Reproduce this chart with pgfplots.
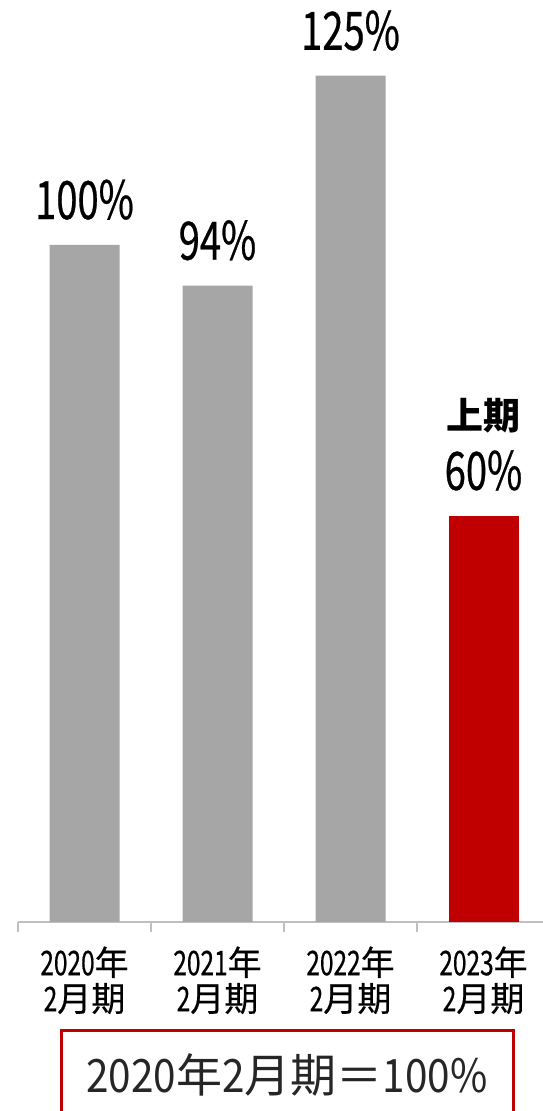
\documentclass[border=0pt]{standalone}
\usepackage{pgfplots}
\pgfplotsset{compat=1.18}
\usepackage{fontspec}
\setmainfont{Noto Sans CJK JP}
\newfontfamily\jpm[FakeBold=0.5]{Noto Sans CJK JP}
\newfontfamily\numA[FakeStretch=0.72,FakeBold=0.5]{Noto Sans CJK JP}
\newfontfamily\numB[FakeStretch=0.88]{Noto Sans CJK JP}
\definecolor{barGray}{HTML}{A6A6A6}
\definecolor{barRed}{HTML}{C00000}
\definecolor{axGray}{HTML}{BFBFBF}
\definecolor{txtDark}{HTML}{262626}
\newcommand\redlab{{\rmfamily\bfseries\fontsize{37}{40}\selectfont 上期}\\[2pt]60\%}
\begin{document}
\begin{tikzpicture}[x=1pt,y=1pt]
\path[use as bounding box] (0,0) rectangle (543,1111);
\begin{axis}[
  at={(18pt,189pt)}, anchor=south west,
  x=133pt, y=6.77pt,
  xmin=-0.5, xmax=3.5, ymin=0, ymax=136,
  axis x line*=bottom, axis y line=none,
  x axis line style={axGray, line width=1.5pt, -},
  xtick={0,1,2,3},
  xticklabels={{{\numA 2020}年\\{\numA 2}月期},{{\numA 2021}年\\{\numA 2}月期},{{\numA 2022}年\\{\numA 2}月期},{{\numA 2023}年\\{\numA 2}月期}},
  major tick length=0pt,
  minor xtick={-0.5,0.5,1.5,2.5,3.5}, minor tick length=10pt, tick align=outside,
  minor tick style={axGray, line width=1.5pt},
  xticklabel style={align=center, font=\fontsize{34}{36}\selectfont\jpm, text=black, yshift=-21pt},
  ybar, bar width=70pt, bar shift=0pt,
  clip=false,
  nodes near coords, point meta=explicit symbolic,
  nodes near coords style={anchor=south, inner sep=0pt, yshift=25pt, font=\fontsize{53}{58}\selectfont\numA, align=center, text=black},
]
\addplot[fill=barGray, draw=none] coordinates {(0,100)[100\%] (1,94)[94\%] (2,125)[125\%]};
\addplot[fill=barRed, draw=none] coordinates {(3,60)[\redlab]};
\end{axis}
\draw[barRed, line width=3pt] (61,-20) rectangle (513,80);
\node[text=txtDark, font=\fontsize{46}{50}\selectfont, inner sep=0pt] at (287,36) {{\numB 2020}年{\numB 2}月期＝{\numB 100\%}};
\end{tikzpicture}
\end{document}
